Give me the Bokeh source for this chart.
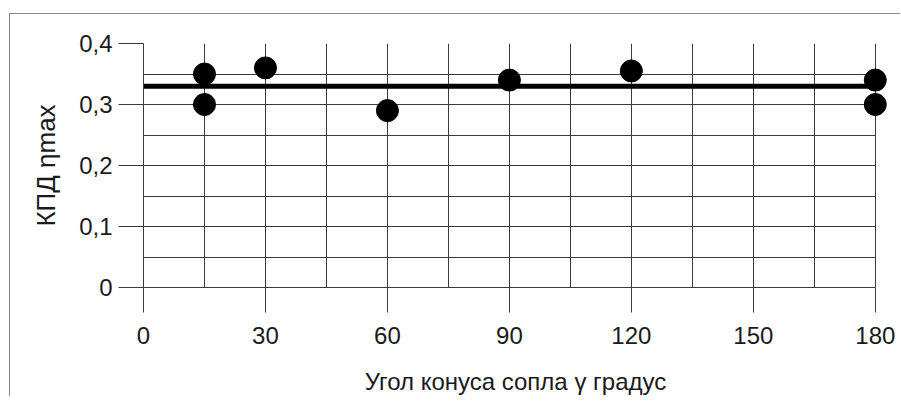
from bokeh.plotting import figure
from bokeh.models import FixedTicker, Range1d
from bokeh.embed import file_html
from bokeh.resources import INLINE

# data
angles = [15, 15, 30, 60, 90, 120, 180, 180]
eff = [0.35, 0.30, 0.36, 0.29, 0.34, 0.355, 0.34, 0.30]
mean_x = [0, 180]
mean_y = [0.33, 0.33]
x_ticks = [0, 30, 60, 90, 120, 150, 180]
x_minor = [15, 45, 75, 105, 135, 165]
y_ticks = [0, 0.1, 0.2, 0.3, 0.4]
y_minor = [0.05, 0.15, 0.25, 0.35]
y_labels = ["0", "0,1", "0,2", "0,3", "0,4"]
x_title = "Угол конуса сопла γ градус"
y_title = "КПД ηmax"

FONT = "Liberation Sans"
TXT = "#1a1a1a"
GRID = "#3a3a3a"

p = figure(output_backend="svg", toolbar_location=None,
           frame_width=744, frame_height=244,
           min_border_left=133, min_border_top=29,
           min_border_right=14, min_border_bottom=108,
           x_range=Range1d(0, 183), y_range=Range1d(0, 0.4),
           background_fill_color="white", border_fill_color="white",
           styles={"margin-left": "10px", "margin-top": "14px",
                   "box-shadow": "-1px -1px 0 0 #8a8a8a"})

p.outline_line_color = None

p.xaxis.ticker = FixedTicker(ticks=x_ticks, minor_ticks=x_minor)
p.yaxis.ticker = FixedTicker(ticks=y_ticks, minor_ticks=y_minor)
p.yaxis.major_label_overrides = dict(zip(y_ticks, y_labels))
p.xaxis.bounds = (0, 180)

for ax in (p.xaxis, p.yaxis):
    ax.axis_line_color = GRID
    ax.major_tick_line_color = GRID
    ax.major_tick_out = 25
    ax.major_tick_in = 0
    ax.minor_tick_out = 0
    ax.minor_tick_in = 0
    ax.major_label_text_font = FONT
    ax.major_label_text_font_size = "24px"
    ax.major_label_text_color = TXT
    ax.axis_label_text_font = FONT
    ax.axis_label_text_font_size = "24px"
    ax.axis_label_text_font_style = "normal"
    ax.axis_label_text_color = TXT

p.yaxis.axis_label_text_font_size = "26px"
p.xaxis.axis_label = x_title
p.yaxis.axis_label = y_title
p.xaxis.major_label_standoff = 14
p.yaxis.major_label_standoff = 6
p.xaxis.axis_label_standoff = 21
p.yaxis.axis_label_standoff = 15

for g in (p.xgrid, p.ygrid):
    g.grid_line_color = GRID
    g.grid_line_width = 1
    g.minor_grid_line_color = GRID
    g.minor_grid_line_width = 1
p.xgrid.bounds = (0, 180)
p.ygrid.cross_bounds = (0, 180)

p.line(mean_x, mean_y, line_color="black", line_width=5)
p.scatter(angles, eff, size=22, fill_color="black", line_color="black")

open("out.html", "w").write(file_html(p, INLINE))
